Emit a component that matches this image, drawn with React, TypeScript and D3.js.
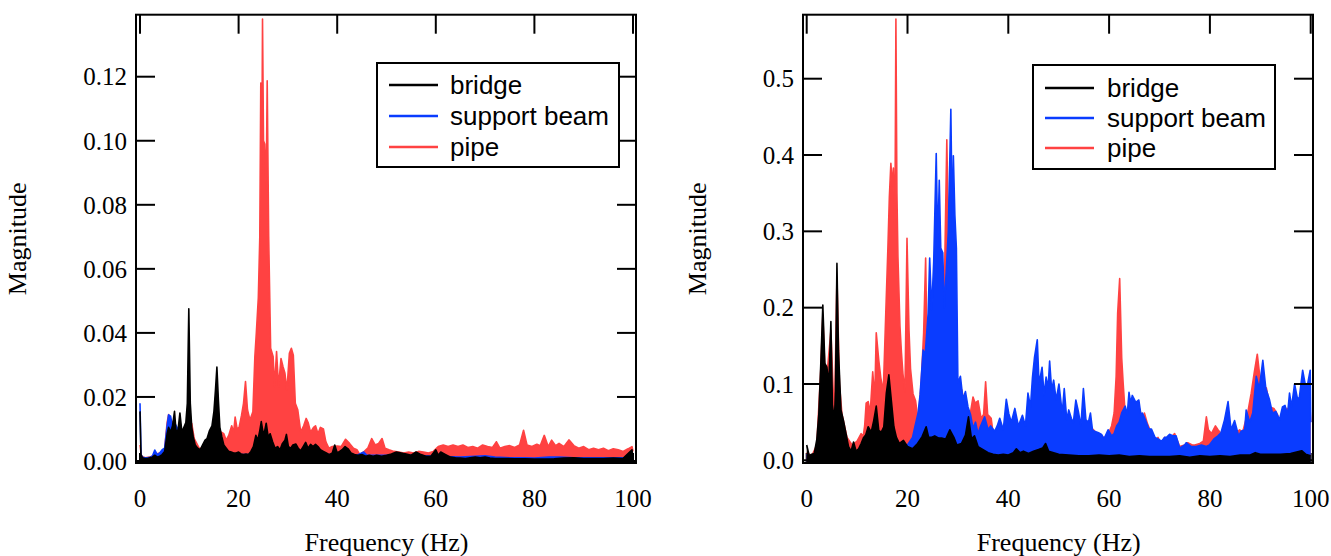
import React from "react";
import * as d3 from "d3";

type Pt = [number, number];

const xTicks = [0, 20, 40, 60, 80, 100];
const leftYTicks = [0, 0.02, 0.04, 0.06, 0.08, 0.1, 0.12];
const rightYTicks = [0, 0.1, 0.2, 0.3, 0.4, 0.5];
const seriesNames = ["bridge", "support beam", "pipe"];
const seriesColors = ["#000000", "#0a3cff", "#ff4242"];

// ---------- left panel ----------
const leftBridge: Pt[] = [
  [0, 0.0155], [0.2, 0.002], [0.5, 0.001], [1, 0.0008], [1.5, 0.0008], [2, 0.001], [2.5, 0.0012], [3, 0.0018], [3.5, 0.0012], [4, 0.0015], [4.5, 0.002], [5, 0.003], [5.5, 0.0085], [5.8, 0.0105], [6.2, 0.009], [6.6, 0.011], [7, 0.0155], [7.3, 0.0095], [7.7, 0.0095], [8.1, 0.015], [8.5, 0.009], [8.9, 0.0105], [9.3, 0.012], [9.6, 0.018], [9.9, 0.0475], [10.2, 0.018], [10.5, 0.0105], [10.8, 0.0075], [11.2, 0.005], [11.7, 0.004], [12.2, 0.0035], [12.7, 0.005], [13.2, 0.0065], [13.6, 0.007], [14.1, 0.0095], [14.6, 0.011], [15.0, 0.0155], [15.3, 0.022], [15.6, 0.0293], [15.9, 0.019], [16.2, 0.0105], [16.6, 0.0075], [17, 0.005], [17.5, 0.004], [18, 0.003], [18.5, 0.0028], [19, 0.0025], [19.5, 0.0025], [20, 0.0028], [20.5, 0.0022], [21, 0.002], [21.5, 0.0022], [22, 0.002], [22.5, 0.003], [23, 0.0045], [23.5, 0.008], [23.9, 0.0065], [24.3, 0.0095], [24.6, 0.0123], [25, 0.0085], [25.3, 0.0095], [25.6, 0.0118], [26, 0.0075], [26.4, 0.0085], [26.9, 0.006], [27.4, 0.004], [27.9, 0.0045], [28.4, 0.0035], [28.9, 0.0055], [29.4, 0.0065], [29.7, 0.0083], [30.1, 0.0045], [30.6, 0.004], [31, 0.005], [31.6, 0.0053], [32.1, 0.004], [32.6, 0.0032], [33.1, 0.0045], [33.6, 0.0058], [34.1, 0.004], [34.6, 0.0052], [35.1, 0.0045], [35.6, 0.0052], [36.1, 0.0045], [36.6, 0.0035], [37.2, 0.003], [37.8, 0.0025], [38.4, 0.002], [39, 0.0025], [39.5, 0.005], [40, 0.0025], [40.5, 0.003], [41, 0.0035], [41.6, 0.0045], [42.2, 0.0038], [42.8, 0.0025], [43.5, 0.002], [44.2, 0.0018], [45, 0.002], [45.8, 0.0015], [46.5, 0.0018], [47.3, 0.0015], [48, 0.0018], [49, 0.0015], [50, 0.0018], [51, 0.0022], [52, 0.0028], [53, 0.0025], [54, 0.0022], [55, 0.0018], [56, 0.0028], [57, 0.002], [58, 0.0015], [59, 0.0015], [60, 0.0035], [60.5, 0.0018], [61, 0.0028], [62, 0.002], [63, 0.0012], [64, 0.001], [65, 0.0009], [66, 0.0008], [67, 0.001], [68, 0.0012], [69, 0.001], [70, 0.0012], [71, 0.0009], [72, 0.0008], [74, 0.0008], [76, 0.0007], [78, 0.0007], [80, 0.0006], [82, 0.0006], [84, 0.0007], [86, 0.0009], [88, 0.001], [90, 0.0008], [92, 0.0008], [94, 0.0008], [96, 0.0009], [98, 0.0008], [99.8, 0.0035], [100, 0.0008],
];

const leftBeam: Pt[] = [
  [0, 0.018], [0.2, 0.002], [0.5, 0.0012], [1, 0.001], [1.5, 0.001], [2, 0.0012], [2.5, 0.0015], [3, 0.0034], [3.5, 0.002], [4, 0.0025], [4.5, 0.0035], [5, 0.004], [5.5, 0.011], [5.8, 0.0144], [6.2, 0.014], [6.6, 0.0105], [7, 0.012], [8, 0.009], [9, 0.006], [10, 0.005], [11, 0.004], [12, 0.003], [13, 0.003], [14, 0.003], [15, 0.003], [16, 0.0025], [18, 0.0022], [20, 0.002], [22, 0.002], [24, 0.002], [26, 0.002], [28, 0.002], [30, 0.002], [32, 0.002], [34, 0.002], [36, 0.002], [38, 0.002], [40, 0.002], [42, 0.0018], [44, 0.0018], [45.4, 0.0028], [46, 0.0018], [48, 0.0018], [50, 0.0018], [55, 0.0018], [60, 0.0015], [65, 0.0012], [68, 0.0015], [70, 0.0016], [72, 0.0012], [75, 0.001], [78, 0.001], [80, 0.0009], [83, 0.0012], [85, 0.0012], [88, 0.001], [90, 0.001], [93, 0.001], [96, 0.001], [100, 0.001],
];

const leftPipe: Pt[] = [
  [0, 0.005], [0.3, 0.0015], [1, 0.001], [2, 0.0012], [3, 0.002], [4, 0.0025], [5, 0.0038], [5.5, 0.012], [5.8, 0.0145], [6.2, 0.013], [7, 0.011], [8, 0.0085], [9, 0.008], [10, 0.01], [10.5, 0.0117], [11, 0.007], [12, 0.004], [13, 0.004], [14, 0.005], [15, 0.006], [16, 0.0065], [16.5, 0.009], [17, 0.0085], [17.5, 0.0065], [18, 0.008], [18.6, 0.011], [19, 0.009], [19.3, 0.0137], [19.7, 0.01], [20.1, 0.0105], [20.6, 0.0143], [21, 0.018], [21.4, 0.0248], [21.8, 0.016], [22.3, 0.0128], [22.9, 0.0154], [23.3, 0.0326], [23.6, 0.04], [24, 0.051], [24.3, 0.07], [24.5, 0.118], [24.7, 0.09], [24.85, 0.138], [25.05, 0.1], [25.3, 0.099], [25.6, 0.085], [25.8, 0.1187], [26.1, 0.07], [26.5, 0.0352], [27, 0.0326], [27.3, 0.0232], [27.7, 0.0342], [28.1, 0.0232], [28.6, 0.032], [29, 0.0295], [29.4, 0.0274], [29.8, 0.022], [30.3, 0.0336], [30.7, 0.0352], [31.1, 0.033], [31.5, 0.018], [32, 0.016], [32.6, 0.009], [33.2, 0.011], [33.7, 0.0133], [34.1, 0.012], [34.6, 0.009], [35.2, 0.0105], [35.6, 0.011], [36.1, 0.0085], [36.6, 0.0105], [37.2, 0.01], [37.7, 0.006], [38.3, 0.004], [39, 0.0045], [40, 0.0047], [40.8, 0.0045], [41.7, 0.0068], [42.5, 0.0055], [43.3, 0.004], [44, 0.0035], [44.6, 0.002], [45.5, 0.003], [46.2, 0.004], [47, 0.007], [47.7, 0.005], [48.4, 0.0055], [49.1, 0.007], [49.7, 0.004], [50.5, 0.0035], [51.5, 0.003], [52.5, 0.0028], [53.5, 0.0025], [54.5, 0.0028], [55.5, 0.0025], [56.5, 0.003], [57.5, 0.0028], [58.5, 0.0025], [59.5, 0.003], [60.5, 0.0045], [61.5, 0.005], [62.5, 0.0045], [63.5, 0.005], [64.5, 0.0045], [65.5, 0.005], [66.5, 0.0042], [67.5, 0.0045], [68.5, 0.004], [69.5, 0.005], [70.5, 0.0045], [71.5, 0.0042], [72.3, 0.006], [73, 0.004], [74, 0.0045], [75, 0.0048], [76, 0.0042], [77, 0.005], [77.8, 0.0096], [78.5, 0.005], [79.5, 0.0045], [80.5, 0.0052], [81.2, 0.0048], [82, 0.008], [82.8, 0.0045], [83.5, 0.0065], [84.3, 0.0048], [85, 0.0055], [86, 0.0045], [87, 0.0066], [88, 0.0048], [89, 0.004], [90, 0.0045], [91, 0.0035], [92, 0.004], [93, 0.0035], [94, 0.004], [95, 0.0032], [96, 0.0038], [97, 0.0035], [98, 0.003], [99, 0.0038], [99.8, 0.0045], [100, 0.003],
];

// ---------- right panel ----------
const rightBridge: Pt[] = [
  [0, 0.02], [0.5, 0.006], [1, 0.008], [1.5, 0.009], [2, 0.027], [2.4, 0.06], [2.8, 0.127], [3.2, 0.2035], [3.6, 0.127], [4, 0.122], [4.4, 0.1], [4.8, 0.1817], [5.1, 0.073], [5.5, 0.052], [5.7, 0.09], [6.0, 0.258], [6.3, 0.144], [6.8, 0.066], [7.3, 0.052], [7.8, 0.035], [8.3, 0.018], [8.8, 0.012], [9.3, 0.024], [9.8, 0.012], [10.3, 0.015], [10.8, 0.022], [11.3, 0.03], [11.7, 0.033], [12.2, 0.044], [12.8, 0.037], [13.3, 0.052], [13.8, 0.071], [14.3, 0.039], [14.8, 0.037], [15.3, 0.044], [15.8, 0.088], [16.3, 0.112], [16.8, 0.078], [17.3, 0.044], [17.8, 0.03], [18.4, 0.022], [19.2, 0.026], [20, 0.018], [21, 0.015], [22, 0.022], [22.9, 0.031], [23.7, 0.044], [24.2, 0.03], [24.7, 0.03], [25.4, 0.032], [26.2, 0.029], [26.9, 0.029], [27.6, 0.028], [28.4, 0.04], [29.2, 0.03], [29.8, 0.02], [30.7, 0.022], [31.5, 0.033], [32.1, 0.057], [32.7, 0.028], [33.3, 0.032], [34, 0.018], [35, 0.014], [36, 0.01], [37, 0.008], [38, 0.007], [39, 0.008], [40, 0.007], [41, 0.01], [41.6, 0.015], [42.3, 0.01], [43, 0.012], [44, 0.009], [45, 0.012], [46, 0.014], [46.8, 0.016], [47.4, 0.022], [48, 0.012], [49, 0.01], [50, 0.008], [52, 0.007], [54, 0.006], [56, 0.006], [58, 0.007], [60, 0.006], [62, 0.007], [64, 0.005], [66, 0.006], [68, 0.005], [70, 0.005], [72, 0.005], [74, 0.006], [76, 0.004], [78, 0.006], [80, 0.005], [82, 0.006], [84, 0.005], [86, 0.007], [88, 0.007], [89, 0.01], [90, 0.008], [92, 0.008], [94, 0.008], [96, 0.009], [98.2, 0.0126], [99, 0.008], [100, 0.006],
];

const rightBeam: Pt[] = [
  [0, 0.008], [1, 0.005], [3, 0.006], [5, 0.006], [8, 0.006], [10, 0.006], [12, 0.008], [14, 0.01], [16, 0.012], [18, 0.015], [20, 0.02], [21, 0.03], [21.5, 0.045], [22.1, 0.062], [22.5, 0.086], [23.1, 0.1445], [23.5, 0.138], [24.1, 0.193], [24.4, 0.265], [24.8, 0.197], [25.2, 0.26], [25.7, 0.402], [26.0, 0.28], [26.3, 0.367], [26.6, 0.278], [27, 0.272], [27.3, 0.2], [27.7, 0.25], [28.1, 0.3], [28.6, 0.46], [28.9, 0.3], [29.1, 0.399], [29.4, 0.321], [29.7, 0.278], [30, 0.101], [30.5, 0.11], [31, 0.08], [31.5, 0.09], [32, 0.07], [32.5, 0.06], [33, 0.042], [33.5, 0.05], [34, 0.035], [34.5, 0.045], [35.3, 0.057], [36, 0.04], [36.5, 0.045], [37.3, 0.038], [37.8, 0.045], [38.3, 0.055], [39, 0.04], [39.6, 0.08], [40.1, 0.061], [40.6, 0.05], [41.3, 0.068], [42, 0.045], [42.8, 0.059], [43.4, 0.045], [43.9, 0.088], [44.4, 0.07], [44.8, 0.109], [45.2, 0.135], [45.75, 0.158], [46.1, 0.1], [46.7, 0.122], [47.1, 0.085], [47.5, 0.109], [47.9, 0.095], [48.2, 0.13], [48.6, 0.092], [49, 0.105], [49.5, 0.079], [50.05, 0.1], [50.7, 0.062], [51.1, 0.094], [51.6, 0.053], [52, 0.066], [52.5, 0.055], [52.9, 0.049], [53.4, 0.079], [53.9, 0.064], [54.4, 0.045], [54.9, 0.094], [55.4, 0.053], [55.9, 0.05], [56.3, 0.062], [56.7, 0.04], [57.1, 0.038], [57.9, 0.036], [58.5, 0.034], [59, 0.028], [59.8, 0.04], [60.5, 0.032], [61, 0.035], [61.5, 0.045], [62, 0.05], [62.5, 0.062], [63.2, 0.071], [63.6, 0.06], [63.95, 0.089], [64.3, 0.075], [64.6, 0.085], [65.3, 0.076], [65.9, 0.079], [66.3, 0.06], [66.6, 0.062], [67.2, 0.053], [67.9, 0.041], [68.4, 0.041], [69.1, 0.03], [69.7, 0.028], [70.4, 0.025], [71, 0.03], [71.4, 0.03], [72, 0.034], [72.7, 0.032], [73.3, 0.032], [74, 0.016], [75, 0.02], [75.3, 0.023], [76.3, 0.018], [77.3, 0.018], [78.3, 0.02], [79.3, 0.018], [79.9, 0.02], [80.8, 0.028], [81.6, 0.032], [82.2, 0.036], [82.9, 0.053], [83.6, 0.077], [84.2, 0.04], [84.9, 0.052], [85.7, 0.032], [86.2, 0.038], [86.9, 0.04], [87.2, 0.066], [87.9, 0.05], [88.5, 0.062], [89.2, 0.11], [89.8, 0.094], [90.5, 0.131], [91.1, 0.094], [91.8, 0.08], [92.4, 0.062], [93.1, 0.064], [93.8, 0.053], [94.4, 0.07], [94.9, 0.072], [95.4, 0.06], [95.8, 0.088], [96.2, 0.07], [96.8, 0.1], [97.3, 0.083], [97.7, 0.08], [98.4, 0.118], [98.9, 0.1], [99.4, 0.1], [99.9, 0.118], [100, 0.05],
];

const rightPipe: Pt[] = [
  [0, 0.01], [1, 0.006], [2, 0.02], [2.8, 0.12], [3.2, 0.19], [3.6, 0.12], [4, 0.11], [4.8, 0.17], [5.5, 0.05], [6, 0.24], [6.5, 0.1], [7, 0.06], [8, 0.03], [9, 0.02], [10, 0.025], [10.8, 0.035], [11.2, 0.031], [11.5, 0.045], [11.8, 0.075], [12.2, 0.077], [12.6, 0.062], [13.1, 0.116], [13.5, 0.081], [13.8, 0.167], [14.3, 0.131], [14.7, 0.108], [15.2, 0.09], [15.7, 0.195], [16.1, 0.276], [16.4, 0.345], [16.7, 0.389], [17.0, 0.36], [17.2, 0.383], [17.5, 0.3], [17.7, 0.578], [17.9, 0.35], [18.1, 0.267], [18.5, 0.176], [18.8, 0.141], [19.1, 0.113], [19.5, 0.09], [19.9, 0.291], [20.3, 0.17], [20.6, 0.12], [21.1, 0.087], [21.6, 0.078], [22.1, 0.052], [22.7, 0.1], [23.2, 0.166], [23.6, 0.265], [24, 0.09], [24.5, 0.1], [25, 0.12], [25.5, 0.15], [26, 0.18], [26.5, 0.2], [27, 0.22], [27.4, 0.26], [27.8, 0.42], [28.1, 0.3], [28.5, 0.37], [28.8, 0.28], [29.1, 0.223], [29.4, 0.15], [29.8, 0.11], [30.35, 0.0965], [30.8, 0.092], [31.3, 0.07], [31.8, 0.06], [32.3, 0.055], [33, 0.083], [33.4, 0.075], [34, 0.078], [34.6, 0.055], [35.1, 0.06], [35.5, 0.103], [35.9, 0.06], [36.6, 0.055], [37.1, 0.03], [38, 0.025], [40, 0.02], [42, 0.022], [44, 0.02], [46, 0.025], [48, 0.025], [50, 0.02], [52, 0.022], [54, 0.02], [55, 0.025], [55.6, 0.035], [56.2, 0.044], [56.9, 0.04], [57.9, 0.032], [58.5, 0.03], [59.2, 0.03], [59.8, 0.034], [60.5, 0.045], [61.0, 0.062], [61.4, 0.11], [61.7, 0.193], [62.1, 0.238], [62.5, 0.134], [62.8, 0.1], [63.3, 0.05], [64, 0.062], [64.8, 0.058], [65.5, 0.053], [66.1, 0.067], [66.6, 0.05], [67, 0.062], [67.6, 0.048], [68.4, 0.035], [69.1, 0.025], [69.7, 0.03], [70.4, 0.02], [71, 0.03], [71.7, 0.025], [72.3, 0.03], [73, 0.035], [74, 0.018], [75, 0.02], [75.6, 0.023], [76.5, 0.02], [77, 0.02], [78, 0.022], [78.7, 0.025], [79.3, 0.057], [79.7, 0.04], [80.3, 0.035], [81.1, 0.045], [81.6, 0.04], [82.2, 0.035], [83.2, 0.03], [84, 0.028], [84.9, 0.035], [85.9, 0.04], [86.5, 0.037], [87.5, 0.062], [88.2, 0.088], [88.8, 0.115], [89.4, 0.139], [89.9, 0.11], [90.6, 0.09], [91.2, 0.095], [91.9, 0.07], [92.7, 0.068], [93.4, 0.06], [94, 0.05], [94.7, 0.035], [95.3, 0.068], [96, 0.062], [96.6, 0.064], [97.1, 0.05], [97.6, 0.07], [98.3, 0.065], [98.7, 0.088], [99.3, 0.07], [99.8, 0.079], [100, 0.05],
];

const SERIF = "'Liberation Serif', 'Times New Roman', serif";
const SANS = "'Liberation Sans', Arial, sans-serif";

type PanelProps = {
  id: string;
  frame: { left: number; right: number; top: number; bottom: number };
  xRange: [number, number];
  yDomain: [number, number];
  yRange: [number, number];
  yTicks: number[];
  yFmt: (v: number) => string;
  bridge: Pt[];
  beam: Pt[];
  pipe: Pt[];
  legend: { x: number; y: number; w: number; h: number; lineX1: number; lineX2: number; textX: number; rows: number[] };
  yTitleX: number;
};

function Panel(p: PanelProps) {
  const x = d3.scaleLinear().domain([0, 100]).range(p.xRange);
  const y = d3.scaleLinear().domain(p.yDomain).range(p.yRange);
  const { left, right, top, bottom } = p.frame;
  const area = d3
    .area<Pt>()
    .x((d) => x(d[0]))
    .y0(bottom)
    .y1((d) => y(d[1]));
  const line = d3
    .line<Pt>()
    .x((d) => x(d[0]))
    .y((d) => y(d[1]));
  const tickLen = 19;
  const series: [Pt[], string][] = [
    [p.pipe, seriesColors[2]],
    [p.beam, seriesColors[1]],
    [p.bridge, seriesColors[0]],
  ];
  const clipId = `clip-${p.id}`;
  return (
    <g>
      <defs>
        <clipPath id={clipId}>
          <rect x={left} y={top} width={right - left} height={bottom - top} />
        </clipPath>
      </defs>
      {xTicks.map((t) => (
        <line key={`bt${t}`} x1={x(t)} x2={x(t)} y1={bottom} y2={bottom - 10} stroke="#000" strokeWidth={2} />
      ))}
      <g clipPath={`url(#${clipId})`}>
        {series.map(([data, color], i) => (
          <g key={i}>
            <path d={area(data) || ""} fill={color} stroke="none" />
            <path d={line(data) || ""} fill="none" stroke={color} strokeWidth={1.6} strokeLinejoin="round" />
          </g>
        ))}
      </g>
      <rect x={left} y={top} width={right - left} height={bottom - top} fill="none" stroke="#000" strokeWidth={2} />
      {xTicks.map((t) => (
        <line key={`tt${t}`} x1={x(t)} x2={x(t)} y1={top} y2={top + tickLen} stroke="#000" strokeWidth={2} />
      ))}
      {p.yTicks.map((t) => (
        <g key={`yt${t}`}>
          <line x1={left} x2={left + tickLen} y1={y(t)} y2={y(t)} stroke="#000" strokeWidth={2} />
          <line x1={right} x2={right - tickLen} y1={y(t)} y2={y(t)} stroke="#000" strokeWidth={2} />
          <text x={left - 9} y={y(t)} dy="0.35em" textAnchor="end" fontFamily={SERIF} fontSize={25} fill="#000">
            {p.yFmt(t)}
          </text>
        </g>
      ))}
      {xTicks.map((t) => (
        <text key={`xl${t}`} x={x(t)} y={507} textAnchor="middle" fontFamily={SERIF} fontSize={25} fill="#000">
          {t}
        </text>
      ))}
      <text x={(x(0) + x(100)) / 2} y={551} textAnchor="middle" fontFamily={SERIF} fontSize={26} fill="#000">
        Frequency (Hz)
      </text>
      <text
        transform={`translate(${p.yTitleX},${(top + bottom) / 2}) rotate(-90)`}
        textAnchor="middle"
        fontFamily={SERIF}
        fontSize={26}
        fill="#000"
      >
        Magnitude
      </text>
      <rect x={p.legend.x} y={p.legend.y} width={p.legend.w} height={p.legend.h} fill="#fff" stroke="#000" strokeWidth={2} />
      {seriesNames.map((name, i) => (
        <g key={name}>
          <line
            x1={p.legend.lineX1}
            x2={p.legend.lineX2}
            y1={p.legend.rows[i]}
            y2={p.legend.rows[i]}
            stroke={seriesColors[i]}
            strokeWidth={2.5}
          />
          <text x={p.legend.textX} y={p.legend.rows[i] + 9} fontFamily={SANS} fontSize={26} fill="#000">
            {name}
          </text>
        </g>
      ))}
    </g>
  );
}

export default function App() {
  return (
    <svg
      width={1331}
      height={556}
      viewBox="0 0 1331 556"
      style={{ position: "fixed", left: 0, top: 0, background: "#fff", display: "block" }}
    >
      <rect x={0} y={0} width={1331} height={556} fill="#fff" />
      <Panel
        id="left"
        frame={{ left: 136, right: 636, top: 14.7, bottom: 463 }}
        xRange={[140, 633]}
        yDomain={[0, 0.12]}
        yRange={[461, 76.7]}
        yTicks={leftYTicks}
        yFmt={(v) => v.toFixed(2)}
        bridge={leftBridge}
        beam={leftBeam}
        pipe={leftPipe}
        legend={{ x: 377, y: 63, w: 242, h: 104, lineX1: 389, lineX2: 438, textX: 450, rows: [85, 116, 147] }}
        yTitleX={26}
      />
      <Panel
        id="right"
        frame={{ left: 803, right: 1313, top: 14.7, bottom: 463 }}
        xRange={[806.7, 1310.7]}
        yDomain={[0, 0.5]}
        yRange={[460.3, 78.7]}
        yTicks={rightYTicks}
        yFmt={(v) => v.toFixed(1)}
        bridge={rightBridge}
        beam={rightBeam}
        pipe={rightPipe}
        legend={{ x: 1033, y: 65, w: 242, h: 104, lineX1: 1045, lineX2: 1094, textX: 1107, rows: [88, 118, 148] }}
        yTitleX={706}
      />
    </svg>
  );
}
